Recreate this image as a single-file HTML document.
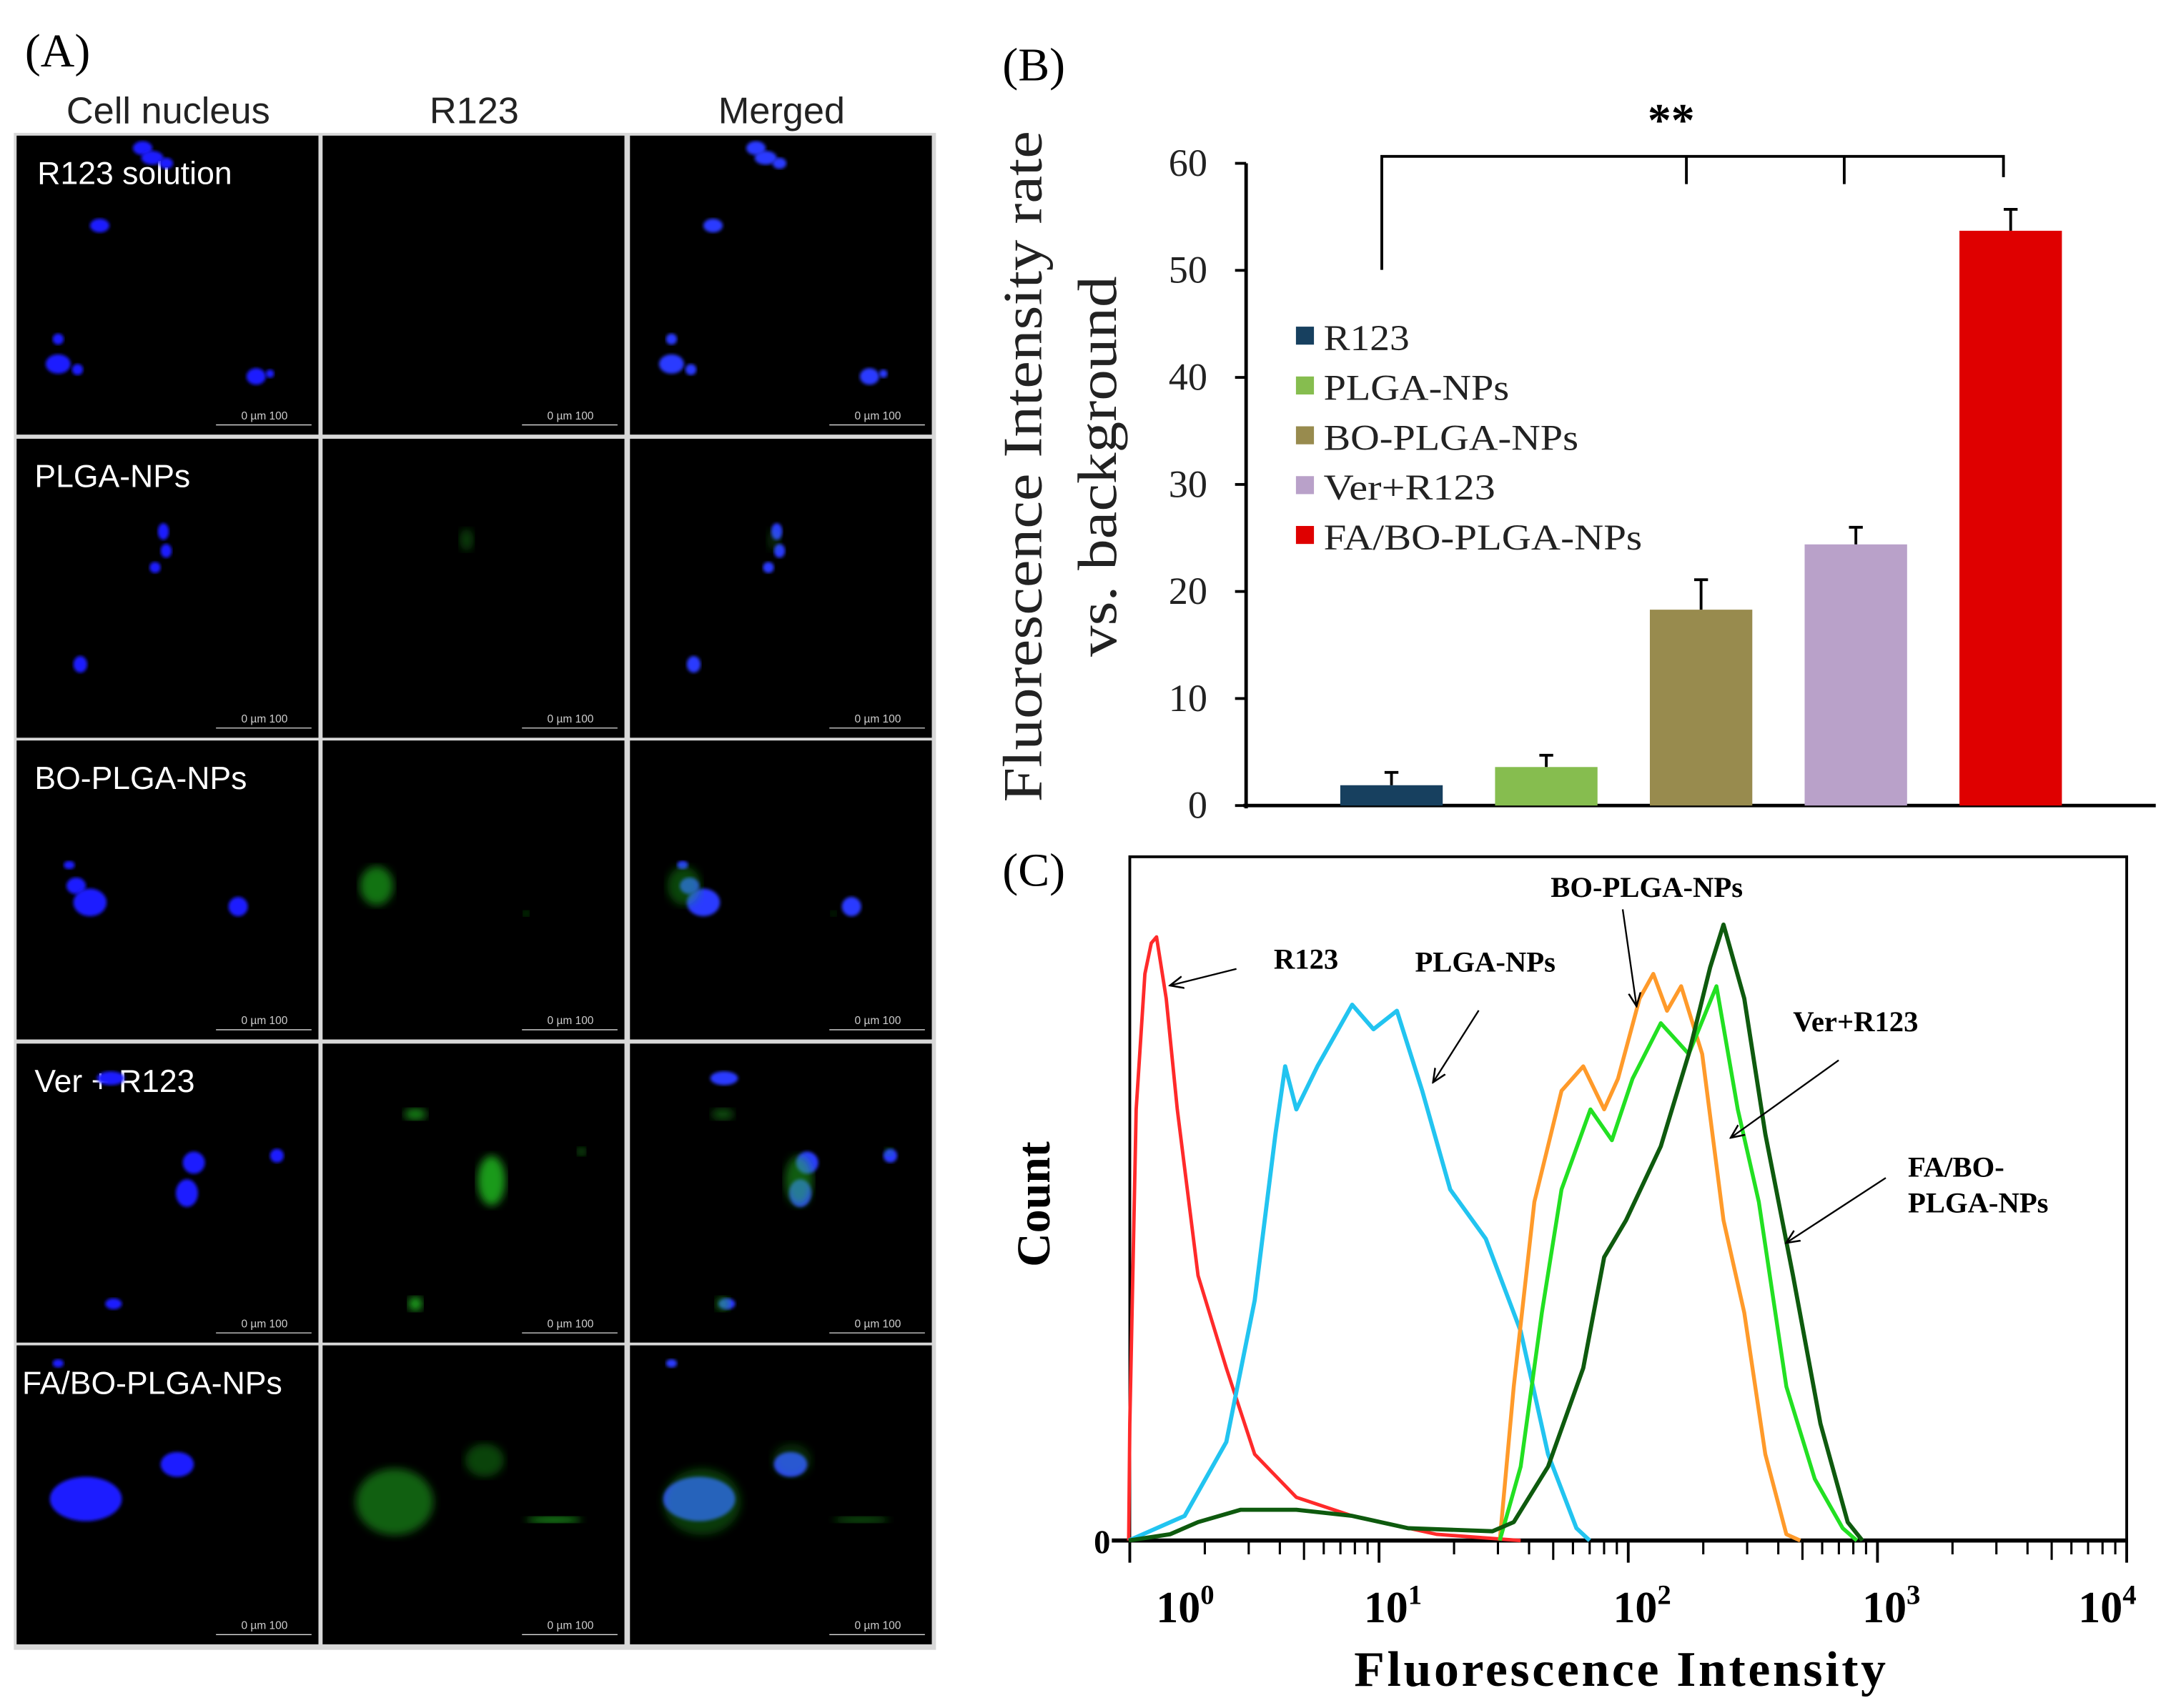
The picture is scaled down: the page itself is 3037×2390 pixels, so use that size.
<!DOCTYPE html>
<html><head><meta charset="utf-8"><style>
html,body{margin:0;padding:0;background:#fff;width:3037px;height:2390px;overflow:hidden}
svg{display:block}
.ser{font-family:"Liberation Serif",serif}
.san{font-family:"Liberation Sans",sans-serif}
</style></head><body>
<svg id="fig" width="3037" height="2390" viewBox="0 0 1568 1234" preserveAspectRatio="none" xmlns="http://www.w3.org/2000/svg">
<defs>
<filter id="blur1"><feGaussianBlur stdDeviation="1.2"/></filter>
<filter id="blur3"><feGaussianBlur stdDeviation="3"/></filter>
<marker id="arr" viewBox="0 0 10 10" refX="9" refY="5" markerWidth="9" markerHeight="9" orient="auto"><path d="M0,1 L9,5 L0,9" fill="none" stroke="#000" stroke-width="1.2"/></marker>
</defs>
<g id="panelA"></g>
<g id="panelB"></g>
<g id="panelC"></g>
</svg>
<script>
// ---------- Panel B data ----------
const barCategories = ["R123","PLGA-NPs","BO-PLGA-NPs","Ver+R123","FA/BO-PLGA-NPs"];
const barValues = [1.9, 3.6, 18.3, 24.4, 53.7];
const barErrors = [1.2, 1.1, 2.8, 1.6, 2.0];
const barColors = ["#17405f","#86bd4f","#988b4e","#b9a1c9","#df0000"];
const yTicks = [0,10,20,30,40,50,60];
// ---------- Panel C data ----------
const xTickDecades = [0,1,2,3,4];
const r123X = [0.99,1.0,1.06,1.15,1.22,1.28,1.4,1.55,1.88,2.44,3.17,4.66,7.8,17,37];
const r123Y = [0,19,70,92,97,98,88,70,43,28,14,7,4,1,0];
const plgaX = [0.99,1.66,2.44,3.17,3.84,4.2,4.66,5.66,7.8,9.5,11.8,14.9,19.3,26.8,37,47.7,62,70];
const plgaY = [0,4,16,39,66,77,70,77,87,83,86,73,57,49,34,14,2,0];
const boX = [30.5,34.7,42,54,66,80,91,111,126,143,163,198,241,292,355,431,490];
const boY = [0,25,55,73,77,70,75,88,92,86,90,79,52,37,14,1,0];
const verX = [30.5,37,45,54,70.5,86,104,135,175,226,275,334,431,560,725,826];
const verY = [0,12,37,57,70,65,75,84,79,90,70,55,25,10,2,0];
const faX = [0.99,1.45,1.88,2.78,4.66,7.8,13.1,28.5,34.7,47.7,66,80,98,135,175,213,241,292,355,458,590,760,870];
const faY = [0,1,3,5,5,4,2,1.5,3,12,28,46,52,64,79,93,100,88,66,43,19,3,0];

const NS="http://www.w3.org/2000/svg";
function mk(parent,tag,attrs,text){const e=document.createElementNS(NS,tag);for(const k in attrs)e.setAttribute(k,attrs[k]);if(text!==undefined)e.textContent=text;parent.appendChild(e);return e;}

// ---------- Panel A ----------
const A=document.getElementById('panelA');
let t=mk(A,'text',{x:18,y:48,class:'ser','font-size':34});t.textContent='(A)';


const colX=[12,233,455], rowY=[98,317,535,754,972], cw=219, ch=217;
const heads=["Cell nucleus","R123","Merged"];
heads.forEach((h,i)=>{const e=mk(A,'text',{x:colX[i]+cw/2,y:89,'text-anchor':'middle',class:'san','font-size':27,fill:'#222'},h);

});
mk(A,'rect',{x:10,y:96,width:666,height:1096,fill:'#d8d8d8'});
rowY.forEach((y,r)=>colX.forEach((x,c)=>{const e=mk(A,'rect',{x:x,y:y,width:cw-1,height:ch-1,fill:'#000'});


const g=mk(A,'g',{stroke:'#ddd','stroke-width':0.7});
mk(g,'line',{x1:x+cw-75,y1:y+ch-8,x2:x+cw-6,y2:y+ch-8});
mk(A,'text',{x:x+cw-40,y:y+ch-12,'text-anchor':'middle',class:'san','font-size':8,fill:'#ccc'},'0    µm    100');
}));
const rowLabels=["R123 solution","PLGA-NPs","BO-PLGA-NPs","Ver + R123","FA/BO-PLGA-NPs"];
const blue=[[[103,107,7,5],[110,114,8,5],[120,118,5,4],[72,163,7,5],[42,245,4,4],[42,263,9,7],[56,267,4,4],[185,272,7,6],[195,270,3,3]],
[[118,384,4,6],[120,398,4,5],[112,410,4,4],[58,480,5,6]],
[[50,625,4,3],[55,640,7,6],[65,652,12,10],[172,655,7,7]],
[[80,779,10,5],[140,840,8,8],[135,862,8,10],[200,835,5,5],[82,942,6,4]],
[[42,985,4,3],[62,1083,26,16],[128,1058,12,9]]];
const green=[[],[[337,390,5,8,0.3]],[[272,640,12,14,0.6],[380,660,2,2,0.8]],
[[300,805,8,4,0.7],[355,853,10,18,0.8],[300,942,5,5,0.9],[420,832,3,3,0.6]],
[[285,1085,28,24,0.5],[350,1055,14,12,0.35],[400,1098,20,2,1]]];
rowLabels.forEach((l,r)=>{const e=mk(A,'text',{x:r==4?16:r==0?27:25,y:rowY[r]+35,class:'san','font-size':23,fill:'#fff'},l);


blue[r].forEach(b=>{mk(A,'ellipse',{cx:b[0],cy:b[1],rx:b[2],ry:b[3],fill:'#1a1aff',filter:'url(#blur1)'});
mk(A,'ellipse',{cx:b[0]+443,cy:b[1],rx:b[2],ry:b[3],fill:'#2a3aff',filter:'url(#blur1)'});});
green[r].forEach(g=>{mk(A,'ellipse',{cx:g[0],cy:g[1],rx:g[2],ry:g[3],fill:'#22c022','fill-opacity':g[4],filter:'url(#blur3)'});
mk(A,'ellipse',{cx:g[0]+222,cy:g[1],rx:g[2],ry:g[3],fill:'#22c022','fill-opacity':g[4]*0.6,filter:'url(#blur3)'});});
});

// ---------- Panel B ----------
const B=document.getElementById('panelB');
const bx0=900, by0=582, by60=118, bx1=1557;
const yB=v=>by0-(by0-by60)*v/60;
const barCx=i=>1005+i*111.8;
t=mk(B,'text',{x:724,y:58,class:'ser','font-size':34},'(B)');


let ax=mk(B,'line',{x1:bx0,y1:by60,x2:bx0,y2:by0+2,stroke:'#000','stroke-width':2.5});


ax=mk(B,'line',{x1:bx0-2,y1:by0,x2:bx1,y2:by0,stroke:'#000','stroke-width':2.5});


yTicks.forEach(v=>{mk(B,'line',{x1:bx0-8,y1:yB(v),x2:bx0,y2:yB(v),stroke:'#000','stroke-width':2});
const e=mk(B,'text',{x:bx0-28,y:yB(v)+9,'text-anchor':'end',class:'ser','font-size':28,fill:'#222'},v);

});
barValues.forEach((v,i)=>{const cx=barCx(i);
const r=mk(B,'rect',{x:cx-37,y:yB(v),width:74,height:by0-yB(v),fill:barColors[i]});


const e=mk(B,'path',{d:`M${cx},${yB(v)} V${yB(v+barErrors[i])} M${cx-5},${yB(v+barErrors[i])} H${cx+5}`,stroke:'#000','stroke-width':2,fill:'none'});

});
const br=mk(B,'path',{d:`M998,195 V113 H1447 V128 M1218,113 V133 M1332,113 V133`,stroke:'#000','stroke-width':2,fill:'none'});


t=mk(B,'text',{x:1207,y:98,'text-anchor':'middle',class:'ser','font-size':34,'font-weight':'bold'},'**');


barCategories.forEach((c,i)=>{const y=243+i*36;
const g=mk(B,'g',{});


mk(g,'rect',{x:936,y:y-7,width:13,height:13,fill:barColors[i]});
mk(g,'text',{x:956,y:y+10,class:'ser','font-size':26,fill:'#222',textLength:[62,134,184,124,230][i],lengthAdjust:'spacingAndGlyphs'},c);});
t=mk(B,'text',{x:0,y:0,transform:'translate(752,337) rotate(-90)','text-anchor':'middle',class:'ser','font-size':40,textLength:485,lengthAdjust:'spacingAndGlyphs',fill:'#222'},'Fluorescence  Intensity rate');


t=mk(B,'text',{x:0,y:0,transform:'translate(806,337) rotate(-90)','text-anchor':'middle',class:'ser','font-size':40,textLength:275,lengthAdjust:'spacingAndGlyphs',fill:'#222'},'vs. background');



// ---------- Panel C ----------
const C=document.getElementById('panelC');
const cx0=816, cxDec=180, cy0=1113, cyMax=668;
const xC=v=>cx0+cxDec*Math.log10(v);
const yC=c=>cy0-(cy0-cyMax)*c/100;
t=mk(C,'text',{x:724,y:640,class:'ser','font-size':34},'(C)');


let box=mk(C,'rect',{x:816,y:619,width:720,height:494,fill:'none',stroke:'#000','stroke-width':2});


mk(C,'line',{x1:803,y1:cy0,x2:1537,y2:cy0,stroke:'#000','stroke-width':3});
mk(C,'text',{x:790,y:cy0+9,class:'ser','font-size':24,'font-weight':'bold'},'0');
xTickDecades.forEach((d,i)=>{const x=xC(Math.pow(10,d));
mk(C,'line',{x1:x,y1:cy0,x2:x,y2:cy0+16,stroke:'#000','stroke-width':2});
if(d<4)for(let m=2;m<10;m++){const xm=xC(m*Math.pow(10,d));mk(C,'line',{x1:xm,y1:cy0,x2:xm,y2:cy0+(m==5?14:10),stroke:'#000','stroke-width':1.6});}
const lx=x+(i==0?40:i==4?-14:10);
const e=mk(C,'text',{x:lx,y:1172,'text-anchor':'middle',class:'ser','font-size':32,'font-weight':'bold'});


mk(e,'tspan',{},'10');mk(e,'tspan',{dy:-13,'font-size':20},String(d));});
t=mk(C,'text',{x:1170,y:1218,'text-anchor':'middle',class:'ser','font-size':36,'font-weight':'bold',textLength:384,lengthAdjust:'spacing'},'Fluorescence   Intensity');


t=mk(C,'text',{x:0,y:0,transform:'translate(758,870) rotate(-90)','text-anchor':'middle',class:'ser','font-size':34,'font-weight':'bold'},'Count');


function curve(xs,ys,col,name,w){let d='';xs.forEach((v,i)=>{d+=(i?'L':'M')+xC(v).toFixed(1)+','+yC(ys[i]).toFixed(1);});
const p=mk(C,'path',{d:d,fill:'none',stroke:col,'stroke-width':w,'stroke-linejoin':'round'});

}
curve(r123X,r123Y,'#ff2a2a','curve-r123',2.5);
curve(plgaX,plgaY,'#22c4f0','curve-plga-nps',3);
curve(boX,boY,'#ff9a2a','curve-bo-plga-nps',2.8);
curve(verX,verY,'#22e022','curve-ver-r123',2.8);
curve(faX,faY,'#0e5a0e','curve-fa-bo-plga-nps',3);
const anns=[["R123",920,700,[893,700,845,712]],["PLGA-NPs",1022,702,[1068,730,1035,782]],["BO-PLGA-NPs",1120,648,[1172,657,1182,727]],["Ver+R123",1295,745,[1328,766,1250,822]],["FA/BO-",1378,850,[1362,851,1290,898]],["PLGA-NPs",1378,876,null]];
anns.forEach(a=>{const e=mk(C,'text',{x:a[1],y:a[2],class:'ser','font-size':21,'font-weight':'bold'},a[0]);


if(a[3]){const l=mk(C,'line',{x1:a[3][0],y1:a[3][1],x2:a[3][2],y2:a[3][3],stroke:'#000','stroke-width':1.2,'marker-end':'url(#arr)'});

}});
</script>
</body></html>
